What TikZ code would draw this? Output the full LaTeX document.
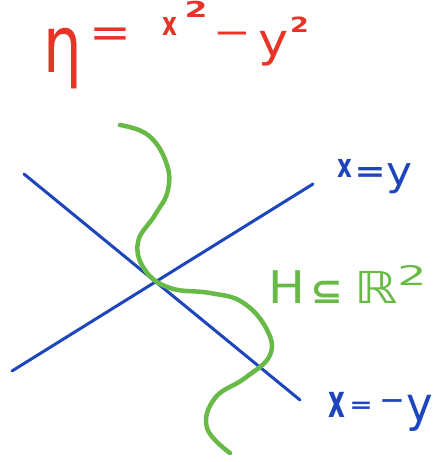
\documentclass[tikz,border=0pt]{standalone}
\usepackage{graphicx}
\usepackage{fontspec}
\setmainfont{DejaVu Sans}
\definecolor{pred}{RGB}{232,52,38}
\definecolor{pblue}{RGB}{30,70,188}
\definecolor{pgreen}{RGB}{104,186,70}
% #1 ink width, #2 hscale, #3 vscale, #4 raise, #5 glyph
\newcommand\glyphbox[5]{\raisebox{#4pt}{\makebox[#1pt]{\scalebox{#2}[#3]{#5}}}}
\tikzset{
  axisline/.style={draw=pblue, line width=3pt, line cap=round},
  curveline/.style={draw=pgreen, line width=4.5pt, line cap=round, line join=round},
  lbl/.style={inner sep=0pt, outer sep=0pt, anchor=base west, font=\fontsize{10}{10}\selectfont}
}
\begin{document}
\begin{tikzpicture}[x=1pt,y=-1pt]
\useasboundingbox (0,0) rectangle (437,462);
% lines
\coordinate (a1) at (12,371);
\coordinate (a2) at (313,184);
\coordinate (b1) at (24,174);
\coordinate (b2) at (300,400);
\draw[axisline] (a1) -- (a2);
\draw[axisline] (b1) -- (b2);
% curve
\draw[curveline] plot[smooth, tension=0.7] coordinates {
 (120,125) (148,135) (166,162) (168,190) (155,215) (138,242)
 (145,270) (170,288) (210,293) (242,302) (266,328) (270,355)
 (245,378) (215,398) (207,428) (230,453)};
% labels
\node[lbl, pred] (eq) at (45,70)
  {\glyphbox{35}{6.1}{7.9}{-3}{η}\hspace{12pt}%
   \glyphbox{36}{5}{4.3}{22.4}{=}\hspace{34pt}%
   \glyphbox{15}{2.3}{3.3}{34}{\bfseries x}\hspace{10pt}%
   \glyphbox{18}{3.3}{2.2}{52}{\bfseries 2}\hspace{13pt}%
   \glyphbox{29}{4.5}{3.5}{25.3}{−}\hspace{13pt}%
   \glyphbox{28}{5.1}{4.6}{13}{y}\hspace{4pt}%
   \glyphbox{15}{2.7}{2.1}{37}{\bfseries 2}};
\node[lbl, pblue] (l1) at (337,178)
  {\glyphbox{15}{2.3}{3.3}{0}{\bfseries x}\hspace{6pt}%
   \glyphbox{24}{3.75}{2.9}{-3.9}{\bfseries =}\hspace{6pt}%
   \glyphbox{24}{4.4}{4}{-8}{y}};
\node[lbl, pgreen] (l2) at (273,303)
  {\glyphbox{27}{4.9}{4.5}{0}{H}\hspace{15pt}%
   \glyphbox{23}{3.9}{3.5}{0}{\bfseries ⊆}\hspace{22pt}%
   \glyphbox{33}{5.5}{4.4}{0}{ℝ}\hspace{7pt}%
   \glyphbox{24}{4.6}{2.7}{18}{2}};
\node[lbl, pblue] (l3) at (328,417)
  {\glyphbox{17}{2.6}{4.6}{0}{\bfseries x}\hspace{7pt}%
   \glyphbox{18}{2.8}{2.15}{4.7}{\bfseries =}\hspace{12pt}%
   \glyphbox{20}{3.1}{2.4}{8.9}{\bfseries −}\hspace{5pt}%
   \glyphbox{25}{4.5}{4.8}{-4}{y}};
\end{tikzpicture}
\end{document}
